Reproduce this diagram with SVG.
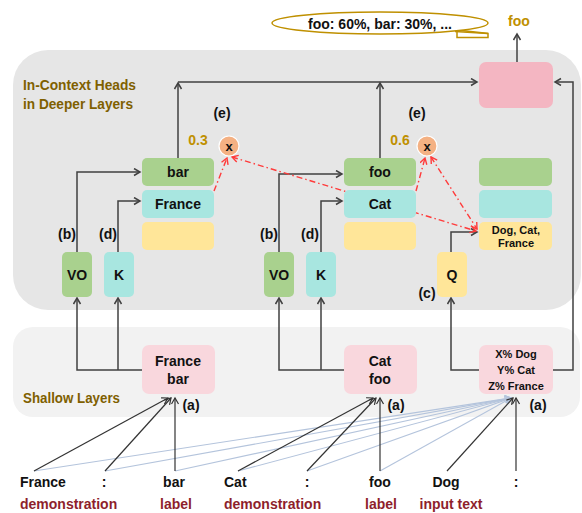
<svg xmlns="http://www.w3.org/2000/svg" width="582" height="513" viewBox="0 0 582 513">
<defs>
<marker id="ad" markerUnits="userSpaceOnUse" markerWidth="10" markerHeight="10" refX="7" refY="4" orient="auto"><path d="M1,0.5 L7,4 L1,7.5" fill="none" stroke="#404040" stroke-width="1.5"/></marker>
<marker id="ar" markerUnits="userSpaceOnUse" markerWidth="10" markerHeight="10" refX="7" refY="4" orient="auto-start-reverse"><path d="M1,0.5 L7,4 L1,7.5" fill="none" stroke="#ff3b3b" stroke-width="1.4"/></marker>
<marker id="ak" markerUnits="userSpaceOnUse" markerWidth="10" markerHeight="10" refX="7" refY="4" orient="auto"><path d="M1,0.5 L7,4 L1,7.5" fill="none" stroke="#333" stroke-width="1.2"/></marker>
<marker id="al" markerUnits="userSpaceOnUse" markerWidth="10" markerHeight="10" refX="7" refY="4" orient="auto"><path d="M1,0.5 L7,4 L1,7.5" fill="none" stroke="#b4c4dc" stroke-width="1.1"/></marker>
</defs>
<style>
text{font-family:"Liberation Sans",Arial,sans-serif;font-weight:bold;font-size:14px;fill:#111}
.m{text-anchor:middle}
.s{font-size:11px}
.gold{fill:#bf9000}
.olive{fill:#7f6000}
.red{fill:#8e1f2c}
.green{fill:#a9d18e}
.cyan{fill:#a8e6e0}
.yellow{fill:#ffe699}
.pink{fill:#f4b6c2}
.lpink{fill:#f9d7dd}
.c{fill:none;stroke:#404040;stroke-width:1.5}
.rd{fill:none;stroke:#ff3b3b;stroke-width:1.4;stroke-dasharray:6 3 1.5 3}
.tk{fill:none;stroke:#333;stroke-width:1.2}
.tl{fill:none;stroke:#b4c4dc;stroke-width:1.1}
</style>
<rect x="13" y="50" width="568" height="260" rx="35" fill="#e6e6e6"/>
<rect x="13" y="327" width="567" height="90" rx="20" fill="#f2f2f2"/>
<text x="23" y="90" class="olive" textLength="113" lengthAdjust="spacingAndGlyphs">In-Context Heads</text>
<text x="23" y="109" class="olive" textLength="110" lengthAdjust="spacingAndGlyphs">in Deeper Layers</text>
<text x="23" y="403" class="olive" textLength="97" lengthAdjust="spacingAndGlyphs">Shallow Layers</text>

<g id="output-bubble">
<polygon points="457,30 488,33.5 488,37.5 457,37.5" fill="#fff" stroke="#bf9000" stroke-width="1.5"/>
<ellipse cx="380" cy="23" rx="108" ry="11" fill="#fff" stroke="#bf9000" stroke-width="1.5"/>
<path d="M455,31.5 L488,33.5" fill="none" stroke="#bf9000" stroke-width="1.5"/>
<text x="380" y="28.5" class="m">foo: 60%, bar: 30%, ...</text>
</g>
<g id="output-foo"><text x="519" y="26" class="m gold">foo</text></g>

<g id="connectors">
<path class="c" d="M178,158 V83" marker-end="url(#ad)"/>
<path class="c" d="M178,82 H477" marker-end="url(#ad)"/>
<path class="c" d="M380,158 V83" marker-end="url(#ad)"/>
<path class="c" d="M517,62 V34" marker-end="url(#ad)"/>
<path class="c" d="M553,370 H573 V82 H555" marker-end="url(#ad)"/>
<path class="c" d="M479,370 H451 V298" marker-end="url(#ad)"/>
<path class="c" d="M451,252 V232 H477" marker-end="url(#ad)"/>
<path class="c" d="M142,370 H77 V298" marker-end="url(#ad)"/>
<path class="c" d="M118,370 V298" marker-end="url(#ad)"/>
<path class="c" d="M77,252 V172 H140" marker-end="url(#ad)"/>
<path class="c" d="M118,252 V201 H140" marker-end="url(#ad)"/>
<path class="c" d="M344,370 H279 V298" marker-end="url(#ad)"/>
<path class="c" d="M321,370 V298" marker-end="url(#ad)"/>
<path class="c" d="M279,252 V174 H342" marker-end="url(#ad)"/>
<path class="c" d="M321,252 V201 H342" marker-end="url(#ad)"/>
<path class="rd" d="M214,191 L227,158" marker-end="url(#ar)"/>
<path class="rd" d="M232,157 L476,231" marker-start="url(#ar)" marker-end="url(#ar)"/>
<path class="rd" d="M416,191 L425,158" marker-end="url(#ar)"/>
<path class="rd" d="M431,157 L477,229" marker-start="url(#ar)" marker-end="url(#ar)"/>
<path class="tl" d="M34,471 L511,398" marker-end="url(#al)"/>
<path class="tl" d="M105,471 L511,398" marker-end="url(#al)"/>
<path class="tl" d="M175,471 L511,398" marker-end="url(#al)"/>
<path class="tl" d="M238,471 L511,398" marker-end="url(#al)"/>
<path class="tl" d="M307,471 L511,398" marker-end="url(#al)"/>
<path class="tl" d="M380,471 L511,398" marker-end="url(#al)"/>
<path class="tk" d="M34,471 L168,398" marker-end="url(#ak)"/>
<path class="tk" d="M105,471 L171,398" marker-end="url(#ak)"/>
<path class="tk" d="M175,471 V398" marker-end="url(#ak)"/>
<path class="tk" d="M238,471 L373,398" marker-end="url(#ak)"/>
<path class="tk" d="M307,471 L376,398" marker-end="url(#ak)"/>
<path class="tk" d="M380,471 V398" marker-end="url(#ak)"/>
<path class="tk" d="M447,471 L513,398" marker-end="url(#ak)" stroke="#111"/>
<path class="tk" d="M516,471 V398" marker-end="url(#ak)" stroke="#111"/>
</g>

<g id="head1-out"><rect x="142" y="158" width="72" height="28" rx="5" class="green"/><text x="178" y="177" class="m">bar</text></g>
<g id="head1-key"><rect x="142" y="190" width="72" height="28" rx="5" class="cyan"/><text x="178" y="209" class="m">France</text></g>
<g id="head1-q"><rect x="142" y="222" width="72" height="28" rx="5" class="yellow"/></g>
<g id="vo1"><rect x="62" y="252" width="30" height="45" rx="5" class="green"/><text x="77" y="280" class="m">VO</text></g>
<g id="k1"><rect x="104" y="252" width="30" height="45" rx="5" class="cyan"/><text x="119" y="280" class="m">K</text></g>
<g id="head2-out"><rect x="344" y="158" width="72" height="28" rx="5" class="green"/><text x="380" y="177" class="m">foo</text></g>
<g id="head2-key"><rect x="344" y="190" width="72" height="28" rx="5" class="cyan"/><text x="380" y="209" class="m">Cat</text></g>
<g id="head2-q"><rect x="344" y="222" width="72" height="28" rx="5" class="yellow"/></g>
<g id="vo2"><rect x="264" y="252" width="30" height="45" rx="5" class="green"/><text x="279" y="280" class="m">VO</text></g>
<g id="k2"><rect x="306" y="252" width="30" height="45" rx="5" class="cyan"/><text x="321" y="280" class="m">K</text></g>
<g id="q"><rect x="437" y="252" width="30" height="45" rx="5" class="yellow"/><text x="452" y="280" class="m">Q</text></g>
<g id="head3-out"><rect x="479" y="158" width="73" height="28" rx="5" class="green"/></g>
<g id="head3-key"><rect x="479" y="190" width="73" height="28" rx="5" class="cyan"/></g>
<g id="head3-q"><rect x="479" y="222" width="73" height="28" rx="5" class="yellow"/><text x="516" y="234" class="m s">Dog, Cat,</text><text x="516" y="247" class="m s">France</text></g>
<g id="final"><rect x="479" y="62" width="74" height="46" rx="7" class="pink"/></g>
<g id="mult1"><circle cx="229" cy="146" r="10" fill="#f4b183" stroke="#fff" stroke-width="1.2"/><text x="229" y="150.5" class="m" style="font-size:13px">x</text></g>
<g id="mult2"><circle cx="427" cy="146" r="10" fill="#f4b183" stroke="#fff" stroke-width="1.2"/><text x="427" y="150.5" class="m" style="font-size:13px">x</text></g>
<text x="198" y="145" class="m gold">0.3</text>
<text x="400" y="145" class="m gold">0.6</text>
<text x="222" y="118" class="m">(e)</text>
<text x="417" y="118" class="m">(e)</text>
<text x="67" y="239" class="m">(b)</text>
<text x="108" y="239" class="m">(d)</text>
<text x="269" y="239" class="m">(b)</text>
<text x="310" y="239" class="m">(d)</text>
<text x="427" y="298" class="m">(c)</text>

<g id="shallow1"><rect x="142" y="345" width="73" height="49" rx="7" class="lpink"/><text x="178" y="366" class="m">France</text><text x="178" y="384" class="m">bar</text></g>
<g id="shallow2"><rect x="344" y="345" width="73" height="49" rx="7" class="lpink"/><text x="380" y="366" class="m">Cat</text><text x="380" y="384" class="m">foo</text></g>
<g id="shallow3"><rect x="479" y="345" width="74" height="49" rx="7" class="lpink"/><text x="516" y="358" class="m s">X% Dog</text><text x="516" y="374" class="m s">Y% Cat</text><text x="516" y="390" class="m s">Z% France</text></g>
<text x="191" y="410" class="m">(a)</text>
<text x="396" y="410" class="m">(a)</text>
<text x="538" y="410" class="m">(a)</text>

<g id="tokens">
<text x="20" y="487">France</text>
<text x="104" y="487" class="m">:</text>
<text x="174" y="487" class="m">bar</text>
<text x="224" y="487">Cat</text>
<text x="307" y="487" class="m">:</text>
<text x="380" y="487" class="m">foo</text>
<text x="446" y="487" class="m">Dog</text>
<text x="516" y="487" class="m">:</text>
<text x="20" y="509" class="red">demonstration</text>
<text x="176" y="509" class="m red">label</text>
<text x="224" y="509" class="red">demonstration</text>
<text x="381" y="509" class="m red">label</text>
<text x="451" y="509" class="m red">input text</text>
</g>
</svg>
